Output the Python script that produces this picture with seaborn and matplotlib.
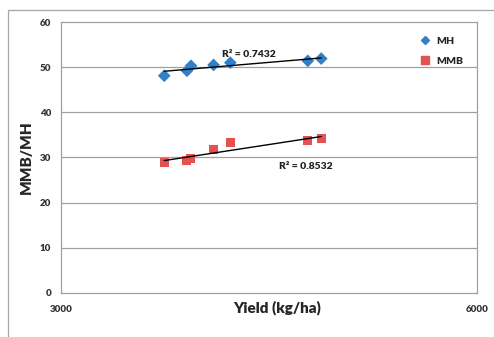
import pandas as pd
import matplotlib.pyplot as plt
import seaborn as sns
from matplotlib.lines import Line2D

# values
yield_kg_ha = [3745, 3909, 3938, 4101, 4222, 4781, 4878]
mh_values = [48.1, 49.2, 50.3, 50.5, 51.0, 51.4, 51.9]
mmb_values = [28.9, 29.3, 29.7, 31.7, 33.4, 33.8, 34.2]
series_names = ['MH', 'MMB']
r2_labels = ['R² = 0.7432', 'R² = 0.8532']
x_ticks = [3000, 6000]
y_ticks = [0, 10, 20, 30, 40, 50, 60]

blue = '#2F80C6'
red = '#E55050'

sns.set_style('white')
plt.rcParams['font.family'] = ['Lato', 'DejaVu Sans']

df = pd.DataFrame({
    'Yield': yield_kg_ha * 2,
    'Value': mh_values + mmb_values,
    'Series': [series_names[0]] * len(mh_values) + [series_names[1]] * len(mmb_values),
})

fig = plt.figure(figsize=(4.94, 3.37), dpi=100)
ax = fig.add_axes([0.1235, 0.1306, 0.8415, 0.8041])

# outer chart frame, only left and top edges show in the crop
x0, y0 = 7.5 / 494, 1 - 10 / 337
fig.add_artist(Line2D([x0, x0], [0, y0], transform=fig.transFigure, color='#A6A6A6', lw=0.9))
fig.add_artist(Line2D([x0, 1.05], [y0, y0], transform=fig.transFigure, color='#A6A6A6', lw=0.9))

for y in y_ticks[1:-1]:
    ax.axhline(y, color='#A0A0A0', lw=0.9, zorder=0)

for name in series_names:
    sub = df[df['Series'] == name]
    sns.regplot(data=sub, x='Yield', y='Value', ax=ax, scatter=False, ci=None,
                truncate=True, line_kws={'color': 'black', 'lw': 1.0, 'zorder': 3})

sns.scatterplot(data=df, x='Yield', y='Value', hue='Series', style='Series',
                palette={'MH': blue, 'MMB': red}, markers={'MH': 'D', 'MMB': 's'},
                s=42, edgecolor='none', ax=ax, legend=False, zorder=2)

ax.text(4160, 51.9, r2_labels[0], fontsize=7.5, fontweight='heavy', ha='left', va='bottom', color='#222222')
ax.text(4570, 28.0, r2_labels[1], fontsize=7.5, fontweight='heavy', ha='left', va='center', color='#222222')

ax.set_xlim(3000, 6000)
ax.set_ylim(0, 60)
ax.set_xticks(x_ticks, labels=[str(t) for t in x_ticks], fontweight='heavy')
ax.set_yticks(y_ticks, labels=[str(t) for t in y_ticks], fontweight='heavy')
ax.tick_params(axis='x', labelsize=7, length=0, pad=9, colors='#333333')
ax.tick_params(axis='y', labelsize=7, pad=4, length=3, color='#A0A0A0', labelcolor='#333333', direction='out')

for side in ['left', 'right', 'bottom', 'top']:
    ax.spines[side].set_visible(True)
    ax.spines[side].set_color('#A0A0A0')
    ax.spines[side].set_linewidth(0.9)

ax.set_xlabel('Yield (kg/ha)', fontsize=11, fontweight='heavy')
ax.xaxis.set_label_coords(0.52, -0.026)
ax.set_ylabel('MMB/MH', fontsize=11, fontweight='heavy', labelpad=5)

handles = [Line2D([], [], marker='D', color=blue, ls='none', markersize=4.5),
           Line2D([], [], marker='s', color=red, ls='none', markersize=6)]
ax.legend(handles, series_names, loc='upper right', bbox_to_anchor=(0.99, 0.98),
          frameon=False, handletextpad=0.1, labelspacing=1.0,
          prop={'weight': 'heavy', 'size': 7.5})

fig.savefig('out.png', dpi=100)
